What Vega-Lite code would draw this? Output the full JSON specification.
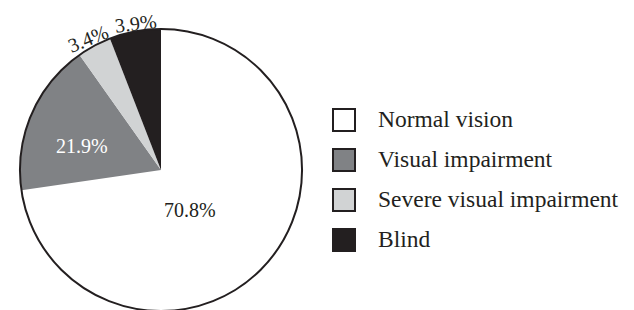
{
  "$schema": "https://vega.github.io/schema/vega-lite/v6.json",
  "width": 322,
  "height": 280,
  "autosize": "none",
  "padding": {"left": 0, "top": 30, "right": 312, "bottom": 0},
  "background": "white",
  "config": {"view": {"stroke": null}, "font": "Liberation Serif"},
  "data": {
    "values": [
      {"status": "Normal vision", "value": 72.7, "label": "70.8%", "i": 1},
      {"status": "Visual impairment", "value": 17.5, "label": "21.9%", "i": 2},
      {"status": "Severe visual impairment", "value": 3.9, "label": "3.4%", "i": 3},
      {"status": "Blind", "value": 5.9, "label": "3.9%", "i": 4}
    ]
  },
  "layer": [
    {
      "mark": {"type": "arc", "radius": 141},
      "encoding": {
        "theta": {"field": "value", "type": "quantitative", "stack": true},
        "order": {"field": "i", "type": "quantitative"},
        "color": {
          "field": "status",
          "type": "nominal",
          "sort": ["Normal vision", "Visual impairment", "Severe visual impairment", "Blind"],
          "scale": {
            "domain": ["Normal vision", "Visual impairment", "Severe visual impairment", "Blind"],
            "range": ["#ffffff", "#808285", "#d1d3d4", "#231f20"]
          },
          "legend": {
            "title": null,
            "orient": "none",
            "legendX": 332,
            "legendY": 78,
            "symbolType": "square",
            "symbolSize": 484,
            "symbolStrokeColor": "#231f20",
            "symbolStrokeWidth": 2,
            "symbolOpacity": 1,
            "labelFont": "Liberation Serif",
            "labelFontSize": 23.5,
            "labelColor": "#231f20",
            "labelOffset": 22,
            "rowPadding": 10,
            "labelLimit": 400
          }
        }
      }
    },
    {
      "mark": {"type": "arc", "radius": 141, "fill": null, "filled": false, "stroke": "#231f20", "strokeWidth": 2},
      "encoding": {
        "theta": {"aggregate": "sum", "field": "value", "type": "quantitative"}
      }
    },
    {
      "mark": {"type": "text", "radius": 50, "dx": -9, "dy": 8, "fontSize": 20, "font": "Liberation Serif", "fill": "#231f20"},
      "encoding": {
        "theta": {"field": "value", "type": "quantitative", "stack": true},
        "order": {"field": "i", "type": "quantitative"},
        "text": {"condition": {"test": "datum.i === 1", "field": "label"}, "value": ""}
      }
    },
    {
      "mark": {"type": "text", "radius": 84, "dx": -2, "dy": 10, "fontSize": 20, "font": "Liberation Serif", "fill": "#ffffff"},
      "encoding": {
        "theta": {"field": "value", "type": "quantitative", "stack": true},
        "order": {"field": "i", "type": "quantitative"},
        "text": {"condition": {"test": "datum.i === 2", "field": "label"}, "value": ""}
      }
    },
    {
      "mark": {"type": "text", "radius": 150, "dx": -2, "dy": 1, "angle": -22, "fontSize": 20, "font": "Liberation Serif", "fill": "#231f20"},
      "encoding": {
        "theta": {"field": "value", "type": "quantitative", "stack": true},
        "order": {"field": "i", "type": "quantitative"},
        "text": {"condition": {"test": "datum.i === 3", "field": "label"}, "value": ""}
      }
    },
    {
      "mark": {"type": "text", "radius": 147, "dx": 2, "dy": -1, "angle": -7, "fontSize": 20, "font": "Liberation Serif", "fill": "#231f20"},
      "encoding": {
        "theta": {"field": "value", "type": "quantitative", "stack": true},
        "order": {"field": "i", "type": "quantitative"},
        "text": {"condition": {"test": "datum.i === 4", "field": "label"}, "value": ""}
      }
    }
  ]
}
